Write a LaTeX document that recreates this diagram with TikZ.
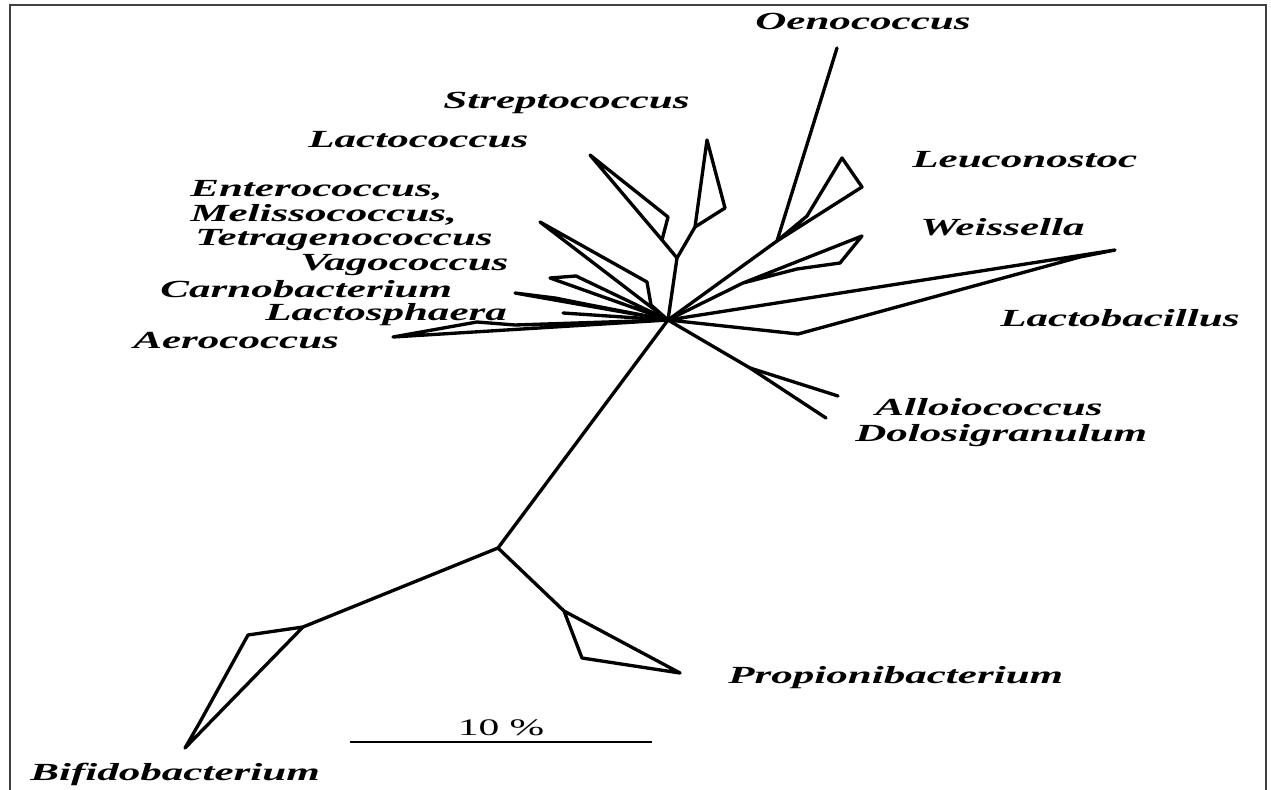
\documentclass[tikz,border=0pt]{standalone}
\usepackage{fontspec}
\usepackage{tikz}
\newfontfamily\taxfont{Liberation Serif}
\newcommand{\genus}[1]{\scalebox{1.75}[1]{#1}}
\tikzset{
  branch/.style={line width=1.9pt,line join=round,line cap=round},
  taxon/.style={anchor=west,inner sep=0pt,font=\taxfont\fontsize{14}{16}\selectfont\bfseries\itshape},
  scalelab/.style={inner sep=0pt,font=\taxfont\fontsize{13.5}{16}\selectfont},
  frame/.style={draw=black!75,line width=1.1pt},
}

\begin{document}
\begin{tikzpicture}[x=0.02cm,y=-0.02cm]
\useasboundingbox (0,0) rectangle (1271,790);
\draw[frame] (10,5) rectangle (1266,820);

% branch points and tips
\coordinate (hub) at (668,320);
\coordinate (root) at (498,548);
\coordinate (bifn) at (303,627); \coordinate (bifa) at (248,635);
\coordinate (bifb) at (200,722); \coordinate (biftip) at (185,748);
\coordinate (prn) at (564,611); \coordinate (pra) at (582,658);
\coordinate (prtip) at (680,673);
\coordinate (lacj) at (677,258);
\coordinate (lcb) at (662,240); \coordinate (lcc) at (668,217); \coordinate (lctip) at (590,155);
\coordinate (stb) at (695,227); \coordinate (sttip) at (707,140); \coordinate (stc) at (725,208);
\coordinate (entip) at (540,222); \coordinate (ena) at (647,282); \coordinate (enb) at (651,305);
\coordinate (vatip) at (550,278); \coordinate (vaa) at (576,276);
\coordinate (catip) at (515,293); \coordinate (caa) at (555,298); \coordinate (cab) at (585,304);
\coordinate (lstip) at (563,313);
\coordinate (aetip) at (393,337); \coordinate (aea) at (477,322); \coordinate (aeb) at (515,325);
\coordinate (leuj) at (777,241); \coordinate (oetip) at (837,48);
\coordinate (leua) at (807,216); \coordinate (leutip) at (842,158); \coordinate (leuc) at (862,187);
\coordinate (wej) at (743,283); \coordinate (wetip) at (862,236);
\coordinate (wea) at (840,263); \coordinate (web) at (797,269);
\coordinate (lbtip) at (1115,250); \coordinate (lba) at (1080,257); \coordinate (lbb) at (798,334);
\coordinate (alj) at (750,368); \coordinate (altip) at (838,396); \coordinate (dotip) at (826,418);

% tree
\draw[branch] (hub) -- (root);
\draw[branch] (root) -- (bifn) -- (bifa) -- (bifb) -- (biftip) -- (bifn);
\draw[branch] (root) -- (prn) -- (pra) -- (prtip) -- (prn);
\draw[branch] (hub) -- (lacj) -- (lcb) -- (lctip) -- (lcc) -- (lcb);
\draw[branch] (lacj) -- (stb) -- (sttip) -- (stc) -- (stb);
\draw[branch] (hub) -- (enb) -- (ena) -- (entip) -- (hub);
\draw[branch] (hub) -- (vaa) -- (vatip) -- (hub);
\draw[branch] (hub) -- (catip) -- (caa) -- (cab) -- (hub);
\draw[branch] (hub) -- (lstip);
\draw[branch] (hub) -- (aeb) -- (aea) -- (aetip) -- (hub);
\draw[branch] (hub) -- (leuj) -- (oetip);
\draw[branch] (leuj) -- (leua) -- (leutip) -- (leuc) -- (leuj);
\draw[branch] (hub) -- (wej) -- (wetip) -- (wea) -- (web) -- (wej);
\draw[branch] (hub) -- (lbtip) -- (lba) -- (lbb) -- (hub);
\draw[branch] (hub) -- (alj) -- (altip);
\draw[branch] (alj) -- (dotip);

% labels
\node[taxon] (oeno) at (755,22) {\genus{Oenococcus}};
\node[taxon] (strep) at (443,103) {\genus{Streptococcus}};
\node[taxon] (lacto) at (308,140) {\genus{Lactococcus}};
\node[taxon] (entero) at (190,190) {\genus{Enterococcus,}};
\node[taxon] (meliss) at (190,215) {\genus{Melissococcus,}};
\node[taxon] (tetra) at (195,240) {\genus{Tetragenococcus}};
\node[taxon] (vago) at (300,265) {\genus{Vagococcus}};
\node[taxon] (carno) at (160,289) {\genus{Carnobacterium}};
\node[taxon] (lsph) at (265,315) {\genus{Lactosphaera}};
\node[taxon] (aero) at (133,341) {\genus{Aerococcus}};
\node[taxon] (leuco) at (912,160) {\genus{Leuconostoc}};
\node[taxon] (weiss) at (920,227) {\genus{Weissella}};
\node[taxon] (lbac) at (1000,318) {\genus{Lactobacillus}};
\node[taxon] (allo) at (875,407) {\genus{Alloiococcus}};
\node[taxon] (dolo) at (855,436) {\genus{Dolosigranulum}};
\node[taxon] (prop) at (728,678) {\genus{Propionibacterium}};
\node[taxon] (bifi) at (30,774) {\genus{Bifidobacterium}};

% scale bar
\coordinate (sbl) at (350,742); \coordinate (sbr) at (652,742);
\draw[line width=1.2pt] (sbl) -- (sbr);
\node[scalelab] (sbt) at (501,728) {\genus{10 \%}};
\end{tikzpicture}
\end{document}
